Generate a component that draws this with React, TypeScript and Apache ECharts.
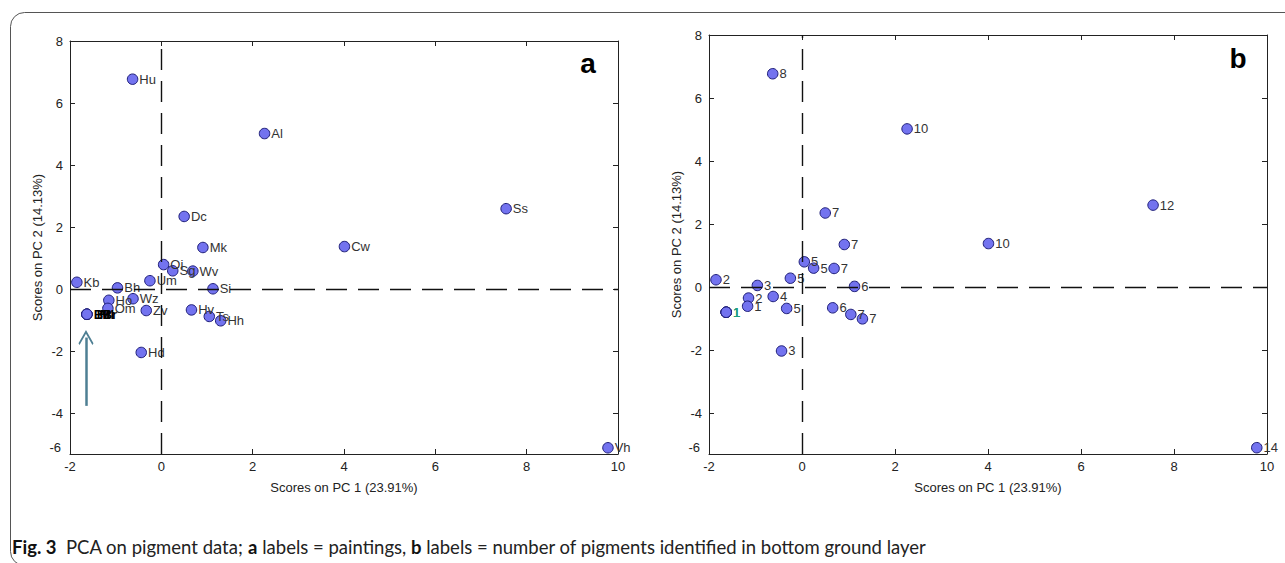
import React, { useEffect, useRef } from "react";
import * as echarts from "echarts";

// Painting codes (panel a labels)
const paintings = ["Hu", "Al", "Ss", "Cw", "Dc", "Mk", "Oi", "Sg", "Wv", "Si", "Um", "Kb", "Bh", "Ho", "Om", "Wz", "Zv", "Hv", "Ts", "Hh", "Hd", "Vh", "Bl", "Hi", "Ml", "Br"];
// Scores on PC 1
const pc1Scores = [-0.63, 2.26, 7.55, 4.01, 0.5, 0.91, 0.05, 0.25, 0.69, 1.13, -0.25, -1.85, -0.96, -1.15, -1.17, -0.62, -0.33, 0.66, 1.05, 1.3, -0.44, 9.78, -1.63, -1.63, -1.63, -1.63];
// Scores on PC 2
const pc2Scores = [6.77, 5.02, 2.6, 1.38, 2.35, 1.35, 0.8, 0.6, 0.59, 0.02, 0.28, 0.23, 0.05, -0.35, -0.61, -0.3, -0.68, -0.66, -0.87, -1.01, -2.03, -5.1, -0.8, -0.8, -0.8, -0.8];
// Number of pigments identified in bottom ground layer (panel b labels)
const pigmentCounts = [8, 10, 12, 10, 7, 7, 5, 5, 7, 6, 5, 2, 3, 2, 1, 4, 5, 6, 7, 7, 3, 14, 1, 1, 1, 1];
// Overlapping group marked by the arrow
const clusterCodes = ["Bl", "Hi", "Ml", "Br"];

const pc1Range = [-2, 10];
const pc2Range = [-5.3, 8];
const pc2CornerLabel = "-6";
const tickStep = 2;
const xTitle = "Scores on PC 1 (23.91%)";
const yTitle = "Scores on PC 2 (14.13%)";
const arrowFrom = [-1.65, -3.75];
const arrowTo = [-1.65, -1.55];

const FONT = "Liberation Sans";

export default function App() {
  const ref = useRef<HTMLDivElement>(null);
  useEffect(() => {
    if (!ref.current) return;
    const chart = echarts.init(ref.current, null, { renderer: "svg" });

    const grids = [
      { left: 70, top: 41, width: 548, height: 413 },
      { left: 709, top: 35, width: 558, height: 419 },
    ];

    const axisLine = { show: true, onZero: false, lineStyle: { color: "#222", width: 1 } };
    const tick = { show: true, inside: true, length: 5, lineStyle: { color: "#222" } };
    const lab = { fontSize: 13, color: "#222", fontFamily: FONT };
    const yFmt = (v: number) =>
      v < pc2Range[0] + 0.01 ? `{c|${pc2CornerLabel}}` : String(Math.round(v));

    const xAxis: any[] = [];
    const yAxis: any[] = [];
    grids.forEach((_, i) => {
      xAxis.push({
        gridIndex: i, type: "value", min: pc1Range[0], max: pc1Range[1], interval: tickStep,
        position: "bottom", axisLine, axisTick: tick, splitLine: { show: false },
        axisLabel: { ...lab, margin: 6 },
        name: xTitle, nameLocation: "middle", nameGap: 27,
        nameTextStyle: { ...lab },
      });
      xAxis.push({
        gridIndex: i, type: "value", min: pc1Range[0], max: pc1Range[1], interval: tickStep,
        position: "top", axisLine, axisTick: tick, splitLine: { show: false },
        axisLabel: { show: false },
      });
      yAxis.push({
        gridIndex: i, type: "value", min: pc2Range[0], max: pc2Range[1],
        minInterval: tickStep, maxInterval: tickStep, splitNumber: 7,
        position: "left", axisLine, axisTick: tick, splitLine: { show: false },
        axisLabel: {
          ...lab, margin: 7, formatter: yFmt,
          rich: { c: { ...lab, padding: [0, 2, 14, 0] } },
        },
        name: yTitle, nameLocation: "middle", nameGap: 26, nameRotate: 90,
        nameTextStyle: { ...lab },
      });
      yAxis.push({
        gridIndex: i, type: "value", min: pc2Range[0], max: pc2Range[1],
        minInterval: tickStep, maxInterval: tickStep, splitNumber: 7,
        position: "right", axisLine, axisTick: tick, splitLine: { show: false },
        axisLabel: { show: false },
      });
    });

    const dashed = {
      silent: true,
      symbol: ["none", "none"],
      label: { show: false },
      lineStyle: { color: "#111", type: [21, 11], width: 1.4 },
      emphasis: { disabled: true },
      data: [{ xAxis: 0 }, { yAxis: 0 }],
    };

    const chevron = "path://M0,0 L10,10 L8.6,11.4 L0,2.8 L-8.6,11.4 L-10,10 Z";

    const makeData = (panel: number) =>
      paintings.map((code, i) => {
        const inCluster = clusterCodes.indexOf(code) >= 0;
        const text = panel === 0 ? code : String(pigmentCounts[i]);
        const item: any = { value: [pc1Scores[i], pc2Scores[i], text] };
        if (inCluster) {
          const k = clusterCodes.indexOf(code);
          item.label = panel === 0
            ? { color: "#000", fontWeight: "bold", offset: [k * 3, 0] }
            : { color: "#1f9e80" };
        }
        return item;
      });

    const scatterBase = {
      type: "scatter",
      symbol: "circle",
      symbolSize: 10.5,
      itemStyle: { color: "#7373ef", borderColor: "#1d1d78", borderWidth: 1, opacity: 1 },
      label: {
        show: true, position: "right", distance: 1,
        formatter: (p: any) => p.value[2],
        fontSize: 13, color: "#333", fontFamily: FONT,
      },
      emphasis: { disabled: true },
    };

    const arrowStyle = { color: "#4e7f93", width: 2.5, type: "solid" };

    const series: any[] = [
      {
        ...scatterBase,
        xAxisIndex: 0, yAxisIndex: 0,
        data: makeData(0),
        markLine: {
          ...dashed,
          data: [
            { xAxis: 0 },
            { yAxis: 0 },
            [
              { coord: arrowFrom, symbol: "none", lineStyle: arrowStyle },
              { coord: arrowTo, symbol: chevron, symbolSize: [15, 15], lineStyle: arrowStyle },
            ],
          ],
        },
      },
      {
        ...scatterBase,
        xAxisIndex: 2, yAxisIndex: 2,
        data: makeData(1),
        markLine: dashed,
      },
    ];

    chart.setOption({
      animation: false,
      backgroundColor: "#fff",
      grid: grids,
      xAxis,
      yAxis,
      series,
      graphic: [
        {
          type: "rect", silent: true, z: -1,
          shape: { x: 10.5, y: 12.5, width: 1300, height: 553, r: 14 },
          style: { fill: "none", stroke: "#555", lineWidth: 1 },
        },
        {
          type: "text", x: 588, y: 63,
          style: { text: "a", font: `bold 28px "${FONT}"`, fill: "#000", align: "center", verticalAlign: "middle" },
        },
        {
          type: "text", x: 1238, y: 58,
          style: { text: "b", font: `bold 28px "${FONT}"`, fill: "#000", align: "center", verticalAlign: "middle" },
        },
        {
          type: "text", x: 12, y: 547,
          style: {
            text: "{b|Fig. 3}  PCA on pigment data; {b|a} labels = paintings, {b|b} labels = number of pigments identified in bottom ground layer",
            fontFamily: "Lato", fontSize: 18.5, fill: "#222", verticalAlign: "middle",
            rich: { b: { fontFamily: "Lato", fontSize: 18.5, fontWeight: "bold", fill: "#111" } },
          },
        },
      ],
    });

    return () => chart.dispose();
  }, []);

  return (
    <div
      ref={ref}
      style={{ position: "fixed", left: 0, top: 0, width: 1285, height: 563, background: "#fff" }}
    />
  );
}
